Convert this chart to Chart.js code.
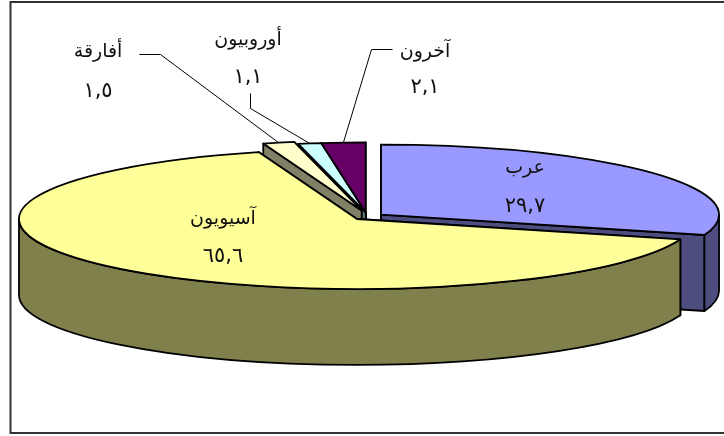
<!DOCTYPE html>
<html>
<head>
<meta charset="utf-8">
<script src="https://cdn.jsdelivr.net/npm/chart.js@4"></script>
<style>
    body { margin: 0; background: #fff; }
    canvas { display: block; }
</style>
</head>
<body>
<canvas id="Graph" width="724" height="436"></canvas>
<script>
// drawing order of the data is the clockwise order of the slices from 12 o'clock
const categories = ["عرب", "آسيويون", "أفارقة", "أوروبيون", "آخرون"];
const values = [29.7, 65.6, 1.5, 1.1, 2.1];

const topColors = ["#9999ff", "#ffff99", "#ffffcc", "#ccffff", "#660066"];
const sideColors = ["#4d4d80", "#80804d", "#808066", "#668080", "#330033"];
const explode = [15, 17, 30, 20, 20];
// the two right small slices pull out together, along the europe one
const explodeAlong = [0, 1, 2, 3, 3];
// asian slice goes last, it has to cover the sides of the others
const sideOrder = [0, 4, 3, 2];
const topOrder = [0, 2, 3, 4];
const frontSlice = 1;

const radius = 338;
const squash = 0.207;
const depth = 76;

const labelPos = [[525, 168, 207], [223, 219, 257], [98, 52, 92], [248, 40, 78], [425, 52, 88]];
// elbow points of the leader lines, the end on the rim comes from the slice
const leaders = {
    2: [[139, 54], [160, 54]],
    3: [[250, 93], [250, 108]],
    4: [[392, 49], [371, 49]]
};

const arabicDigits = "٠١٢٣٤٥٦٧٨٩";

function toArabic(v){
    return v.toFixed(1).replace(".", ",").replace(/\d/g, d => arabicDigits[d]);
}

function midAngle(arc){
    return (arc.startAngle + arc.endAngle) / 2;
}

function apex(arcs, i){
    const mid = midAngle(arcs[explodeAlong[i]]);
    return {
        x: arcs[i].x + Math.cos(mid) * explode[i],
        y: arcs[i].y + Math.sin(mid) * explode[i] * squash
    };
}

function rim(p, angle){
    return {x: p.x + Math.cos(angle) * radius, y: p.y + Math.sin(angle) * radius * squash};
}

function cutFace(ctx, p, angle){
    const r = rim(p, angle);
    ctx.beginPath();
    ctx.moveTo(p.x, p.y);
    ctx.lineTo(r.x, r.y);
    ctx.lineTo(r.x, r.y + depth);
    ctx.lineTo(p.x, p.y + depth);
    ctx.closePath();
    ctx.fill();
    ctx.stroke();
}

function outerWall(ctx, p, from, to){
    if (to <= from) return;
    ctx.beginPath();
    ctx.ellipse(p.x, p.y, radius, radius * squash, 0, from, to);
    ctx.ellipse(p.x, p.y + depth, radius, radius * squash, 0, to, from, true);
    ctx.closePath();
    ctx.fill();
    ctx.stroke();
}

function drawSides(ctx, arcs, i){
    const arc = arcs[i];
    const p = apex(arcs, i);
    ctx.fillStyle = sideColors[i];
    cutFace(ctx, p, arc.endAngle);
    cutFace(ctx, p, arc.startAngle);
    outerWall(ctx, p, Math.max(arc.startAngle, 0), Math.min(arc.endAngle, Math.PI));
}

function drawTop(ctx, arcs, i){
    const arc = arcs[i];
    const p = apex(arcs, i);
    // top face: the library arc inside a flattened transform
    ctx.save();
    ctx.translate(p.x, p.y);
    ctx.scale(1, squash);
    ctx.translate(-arc.x, -arc.y);
    arc.draw(ctx);
    ctx.beginPath();
    ctx.moveTo(arc.x, arc.y);
    ctx.arc(arc.x, arc.y, radius, arc.startAngle, arc.endAngle);
    ctx.closePath();
    ctx.restore();
    // stroke after restore so the line is not squashed too
    ctx.stroke();
}

const pie3d = {
    id: "pie3d",
    beforeDatasetDraw(chart, args){
        const ctx = chart.ctx;
        const arcs = args.meta.data;
        ctx.save();
        ctx.lineJoin = "round";
        ctx.lineWidth = 1.8;
        ctx.strokeStyle = "#000";
        sideOrder.forEach(i => drawSides(ctx, arcs, i));
        topOrder.forEach(i => drawTop(ctx, arcs, i));
        drawSides(ctx, arcs, frontSlice);
        drawTop(ctx, arcs, frontSlice);
        ctx.restore();
        return false;
    },
    afterDraw(chart){
        const ctx = chart.ctx;
        const arcs = chart.getDatasetMeta(0).data;
        ctx.save();

        // frame, cut off by the right edge of the picture
        ctx.strokeStyle = "#333";
        ctx.lineWidth = 2;
        ctx.beginPath();
        ctx.moveTo(730, 2);
        ctx.lineTo(10.5, 2);
        ctx.lineTo(10.5, 433);
        ctx.lineTo(730, 433);
        ctx.stroke();

        ctx.strokeStyle = "#000";
        ctx.lineWidth = 1;
        Object.keys(leaders).forEach(i => {
            const end = rim(apex(arcs, i), midAngle(arcs[i]));
            ctx.beginPath();
            ctx.moveTo(leaders[i][0][0] + 0.5, leaders[i][0][1] + 0.5);
            ctx.lineTo(leaders[i][1][0] + 0.5, leaders[i][1][1] + 0.5);
            ctx.lineTo(end.x, end.y);
            ctx.stroke();
        });

        ctx.fillStyle = "#111";
        ctx.textAlign = "center";
        ctx.textBaseline = "middle";
        categories.forEach((name, i) => {
            ctx.direction = "rtl";
            ctx.letterSpacing = "0px";
            ctx.font = "19px 'DejaVu Sans'";
            ctx.fillText(name, labelPos[i][0], labelPos[i][1]);
            ctx.direction = "ltr";
            ctx.letterSpacing = "3px";
            ctx.font = "21px 'DejaVu Sans'";
            ctx.fillText(toArabic(values[i]), labelPos[i][0], labelPos[i][2]);
        });
        ctx.restore();
    }
};

function main(){
    new Chart("Graph", {
        type: "pie",
        data: {
            labels: categories,
            datasets: [{
                data: values,
                backgroundColor: topColors,
                borderWidth: 0
            }]
        },
        options: {
            responsive: false,
            animation: false,
            radius: radius,
            layout: {padding: {left: 14, bottom: 3}},
            plugins: {legend: {display: false}, tooltip: {enabled: false}}
        },
        plugins: [pie3d]
    });
}

main();
</script>
</body>
</html>
